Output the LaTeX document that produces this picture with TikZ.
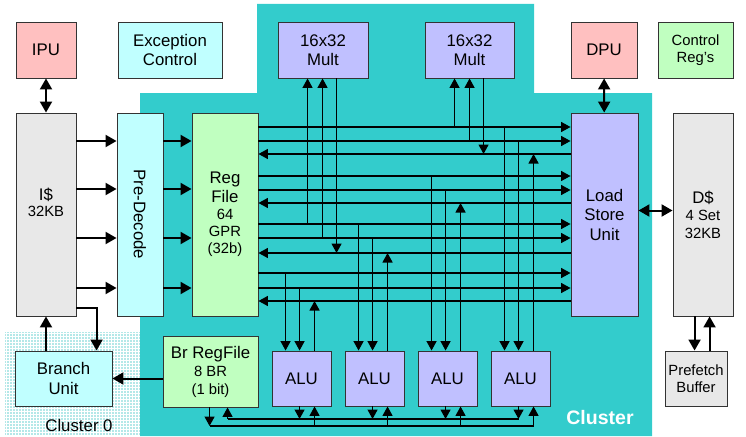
\documentclass[tikz,border=0pt]{standalone}
\usepackage{fontspec}
\setmainfont{Liberation Sans}
\usetikzlibrary{arrows.meta}
\definecolor{clbg}{RGB}{51,204,204}
\definecolor{pinkb}{RGB}{255,192,192}
\definecolor{cyanb}{RGB}{192,255,255}
\definecolor{lavb}{RGB}{192,192,255}
\definecolor{greenb}{RGB}{192,255,192}
\definecolor{grayb}{RGB}{232,232,232}
\definecolor{gridc}{RGB}{180,232,232}
\newcommand{\bigtxt}{\fontsize{16.8}{19.5}\selectfont}
\newcommand{\smtxt}{\fontsize{14.8}{17}\selectfont}

\begin{document}
\begin{tikzpicture}[x=1pt, y=-1pt, >={Triangle[length=11pt,width=12pt]},
  blk/.style={draw=black!80, line width=0.9pt, inner sep=0pt, align=center, font=\bigtxt},
  tight/.style={font=\fontsize{16.8}{17.5}\selectfont},
  wide/.style={line width=2pt},
  bus/.style={line width=1.4pt, >={Triangle[length=9.5pt,width=10pt]}}]
\useasboundingbox (0,0) rectangle (746,436);
% cluster backgrounds
\fill[clbg] (140,93) -- (257,93) -- (257,4) -- (534,4) -- (534,93) -- (652,93) -- (652,436) -- (140,436) -- cycle;
\fill[gridc] (5,332) rectangle (140,436);
\draw[white, line width=1pt, step=3pt] (5,332) grid (140,436);
% top row
\node[blk, fill=pinkb, minimum width=60pt, minimum height=56pt] (ipu) at (46,50) {IPU};
\node[blk, fill=cyanb, minimum width=104pt, minimum height=56pt] (exc) at (170,50) {Exception\\Control};
\node[blk, fill=lavb, minimum width=90pt, minimum height=56pt] (multa) at (323,50) {16x32\\Mult};
\node[blk, fill=lavb, minimum width=89pt, minimum height=56pt] (multb) at (469.5,50) {16x32\\Mult};
\node[blk, fill=pinkb, minimum width=66pt, minimum height=56pt] (dpu) at (604,50) {DPU};
\node[blk, fill=greenb, font=\smtxt, minimum width=75pt, minimum height=56pt] (creg) at (695.5,50) {Control\\Reg's};
% middle row
\node[blk, tight, fill=grayb, minimum width=60pt, minimum height=203pt] (icache) at (46,214.5) {I\$\\[-1.5pt]\smtxt 32KB\\[6pt]\mbox{}};
\node[blk, fill=cyanb, minimum width=46pt, minimum height=203pt] (predec) at (140,214.5) {\rotatebox{-90}{Pre-Decode}};
\node[blk, tight, fill=greenb, minimum width=66pt, minimum height=203pt] (regf) at (225,214.5) {Reg\\[1.5pt]File\\\smtxt 64\\[-1pt]\smtxt GPR\\\smtxt (32b)};
\node[blk, fill=lavb, minimum width=67pt, minimum height=203pt] (lsu) at (604.5,214.5) {Load\\Store\\Unit};
\node[blk, tight, fill=grayb, minimum width=60pt, minimum height=203pt] (dcache) at (703,214.5) {D\$\\\smtxt 4 Set\\\smtxt 32KB};
% bottom row
\node[blk, fill=cyanb, minimum width=97pt, minimum height=55pt] (bru) at (63.5,378.5) {Branch\\Unit};
\node[blk, tight, fill=greenb, minimum width=95pt, minimum height=71pt] (brf) at (210.5,371.5) {Br RegFile\\[0.5pt]\smtxt 8 BR\\[0.5pt]\smtxt (1 bit)};
\foreach \n/\x in {alua/301.5, alub/374.5, aluc/447.5, alud/520.5}{
  \node[blk, fill=lavb, minimum width=59pt, minimum height=55pt] (\n) at (\x,378.5) {ALU};
}
\node[blk, fill=grayb, font=\smtxt, minimum width=62pt, minimum height=55pt] (pfb) at (696,378.5) {Prefetch\\Buffer};
% labels
\node[font=\bigtxt] (clzero) at (79,425) {Cluster 0};
\node[font=\fontsize{19.5}{22}\selectfont\bfseries, text=white] (cllbl) at (600,418) {Cluster};
% fetch path
\draw[wide,<->] (ipu) -- (icache);
\draw[wide,<->] (dpu) -- (lsu);
\foreach \y in {141,189,238,288}{
  \draw[wide,->] (icache.east |- 0,\y) -- (predec.west |- 0,\y);
  \draw[wide,->] (predec.east |- 0,\y) -- (regf.west |- 0,\y);
}
% register file ports
\foreach \ra/\rb/\w in {127/141/154, 176/190/203, 224/238/253, 273/288/301}{
  \draw[bus,->] (regf.east |- 0,\ra) -- (lsu.west |- 0,\ra);
  \draw[bus,->] (regf.east |- 0,\rb) -- (lsu.west |- 0,\rb);
  \draw[bus,->] (lsu.west |- 0,\w) -- (regf.east |- 0,\w);
}
\foreach \n/\ra/\rb/\w in {multa/224/238/253, multb/127/141/154}{
  \draw[bus,->] ([xshift=30pt]\n.south west |- 0,\ra) -- ([xshift=30pt]\n.south west);
  \draw[bus,->] ([xshift=45pt]\n.south west |- 0,\rb) -- ([xshift=45pt]\n.south west);
  \draw[bus,->] ([xshift=59pt]\n.south west) -- ([xshift=59pt]\n.south west |- 0,\w);
}
\foreach \n/\ra/\rb/\w in {alua/273/288/301, alub/224/238/253, aluc/176/190/203, alud/127/141/154}{
  \draw[bus,->] ([xshift=14pt]\n.north west |- 0,\ra) -- ([xshift=14pt]\n.north west);
  \draw[bus,->] ([xshift=28pt]\n.north west |- 0,\rb) -- ([xshift=28pt]\n.north west);
  \draw[bus,->] ([xshift=43pt]\n.north west) -- ([xshift=43pt]\n.north west |- 0,\w);
}
% branch bus
\draw[bus] ([xshift=65pt]brf.south west |- 0,419) -- ([xshift=28pt]alud.south west |- 0,419);
\draw[bus] ([xshift=47pt]brf.south west |- 0,426) -- ([xshift=43pt]alud.south west |- 0,426);
\draw[bus,->] ([xshift=47pt]brf.south west) -- ([xshift=47pt]brf.south west |- 0,426);
\draw[bus,->] ([xshift=65pt]brf.south west |- 0,419) -- ([xshift=65pt]brf.south west);
\foreach \n in {alua,alub,aluc,alud}{
  \draw[bus,->] ([xshift=28pt]\n.south west) -- ([xshift=28pt]\n.south west |- 0,419);
  \draw[bus,->] ([xshift=43pt]\n.south west |- 0,426) -- ([xshift=43pt]\n.south west);
}
\draw[wide,->] (brf.west |- bru.east) -- (bru.east);
\draw[wide,->] (icache.south |- bru.north) -- (icache.south);
\draw[wide,->] (icache.east |- 0,308) -| ([xshift=82pt]bru.north west);
% data cache
\draw[wide,<->] ([yshift=4pt]lsu.east) -- ([yshift=4pt]dcache.west);
\draw[wide,->] ([xshift=22pt]dcache.south west) -- ([xshift=22pt]dcache.south west |- pfb.north);
\draw[wide,->] ([xshift=37pt]dcache.south west |- pfb.north) -- ([xshift=37pt]dcache.south west);
\end{tikzpicture}
\end{document}
